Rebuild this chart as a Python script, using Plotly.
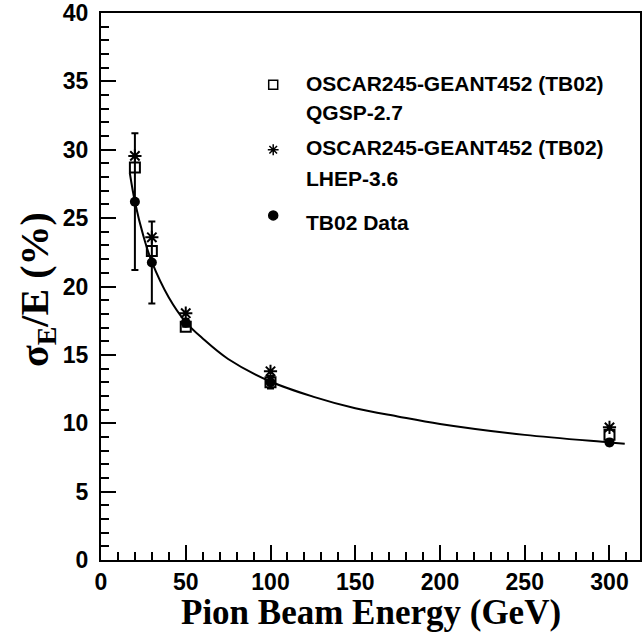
import plotly.graph_objects as go

# ---- data ----
energy = [20, 30, 50, 100, 300]
qgsp = [28.7, 22.6, 17.05, 13.0, 9.15]
lhep = [29.55, 23.6, 18.05, 13.8, 9.7]
tb02 = [26.2, 21.75, 17.35, 13.0, 8.6]
tb02_err = [5.0, 3.0, 0.3, 0.45, 0.2]

fit_x = [17, 20, 25, 30, 40, 50, 60, 75, 100, 125, 150, 175, 200, 250, 300, 309]
fit_y = [28.3, 26.2, 23.7, 21.8, 19.2, 17.4, 16.2, 14.7, 13.05, 11.95, 11.1, 10.5, 9.95, 9.15, 8.6, 8.5]

x_ticks = [0, 50, 100, 150, 200, 250, 300]
y_ticks = [0, 5, 10, 15, 20, 25, 30, 35, 40]

legend_lines = ["OSCAR245-GEANT452 (TB02)", "QGSP-2.7",
                "OSCAR245-GEANT452 (TB02)", "LHEP-3.6", "TB02 Data"]

SANS = "Liberation Sans"
SERIF = "Liberation Serif"

fig = go.Figure()

fig.add_trace(go.Scatter(x=fit_x, y=fit_y, mode="lines", line_shape="spline",
                         line=dict(color="black", width=2), showlegend=False))
fig.add_trace(go.Scatter(x=energy, y=qgsp, mode="markers", showlegend=False,
                         marker=dict(symbol="square-open", size=10, color="black",
                                     line=dict(width=2, color="black"))))
fig.add_trace(go.Scatter(x=energy, y=lhep, mode="markers", showlegend=False,
                         marker=dict(symbol="asterisk-open", size=11, color="black",
                                     line=dict(width=2, color="black"))))
fig.add_trace(go.Scatter(x=energy, y=tb02, mode="markers", showlegend=False,
                         error_y=dict(type="data", array=tb02_err, visible=True,
                                      color="black", thickness=2, width=3.5),
                         marker=dict(symbol="circle", size=10, color="black")))

# legend symbols on an overlay axis spanning the plot area (0..1)
leg_sym_x = [0.3195, 0.3195, 0.3195]
leg_sym_y = [0.869, 0.75, 0.63]
leg_symbols = ["square-open", "asterisk-open", "circle"]
for sx, sy, sym in zip(leg_sym_x, leg_sym_y, leg_symbols):
    fig.add_trace(go.Scatter(x=[sx], y=[sy], xaxis="x2", yaxis="y2", mode="markers",
                             showlegend=False,
                             marker=dict(symbol=sym, size=9, color="black",
                                         line=dict(width=1.5, color="black"))))

leg_text_y = [0.872, 0.818, 0.755, 0.698, 0.617]
for txt, ty in zip(legend_lines, leg_text_y):
    fig.add_annotation(x=0.3763, y=ty, xref="paper", yref="paper", text=txt,
                       showarrow=False, xanchor="left", yanchor="middle",
                       font=dict(family=SANS, size=21, color="black", weight="bold"))

# axis titles
fig.add_annotation(x=0.5, y=-0.096, xref="paper", yref="paper",
                   text="Pion Beam Energy (GeV)", showarrow=False,
                   xanchor="center", yanchor="middle",
                   font=dict(family=SERIF, size=35, color="black", weight="bold"))
fig.add_annotation(x=-0.12, y=0.494, xref="paper", yref="paper",
                   text="σ<sub>E</sub>/E (%)", showarrow=False, textangle=-90,
                   xanchor="center", yanchor="middle",
                   font=dict(family=SERIF, size=40, color="black", weight="bold"))

axis_common = dict(showgrid=False, zeroline=False, showline=True, linecolor="black",
                   linewidth=2, mirror=True, ticks="inside", tickwidth=2,
                   ticklen=15, tickcolor="black", ticklabeloverflow="allow",
                   tickfont=dict(family=SANS, size=23, color="black", weight="bold"))

fig.update_layout(
    width=642, height=635,
    margin=dict(l=101, r=0, t=13, b=75),
    paper_bgcolor="white", plot_bgcolor="white",
    xaxis=dict(range=[0, 318], tickvals=x_ticks, ticktext=[str(v) for v in x_ticks],
               minor=dict(ticks="inside", ticklen=8, tickwidth=2, dtick=10,
                          tickcolor="black"),
               **axis_common),
    yaxis=dict(range=[0, 40], tickvals=y_ticks, ticktext=[str(v) for v in y_ticks],
               minor=dict(ticks="inside", ticklen=8, tickwidth=2, dtick=1,
                          tickcolor="black"),
               ticklabelstandoff=6,
               **axis_common),
    xaxis2=dict(overlaying="x", range=[0, 1], visible=False),
    yaxis2=dict(overlaying="y", range=[0, 1], visible=False),
    showlegend=False,
)

fig.write_html("out.html")
